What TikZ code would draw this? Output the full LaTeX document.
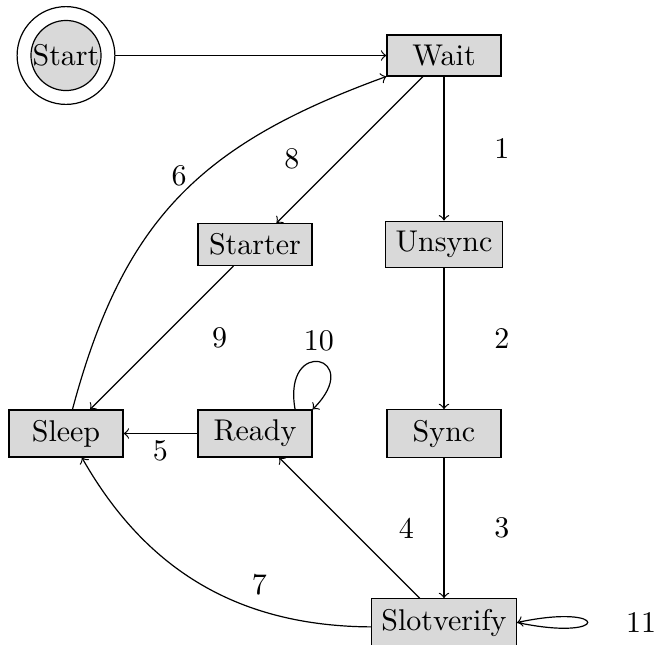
\documentclass[tikz,border=0pt]{standalone}
\usetikzlibrary{positioning}
\tikzstyle{box}  = [rectangle, draw, fill=gray!30, minimum width=38pt]
\tikzstyle{init} = [circle, draw, fill=gray!30, inner sep=0pt]
\tikzstyle{ring} = [circle, draw, minimum size=32.6pt]
\tikzstyle{num}  = [midway]

\begin{document}
\begin{tikzpicture}[->, node distance=63pt]
\useasboundingbox (-22pt,18.5pt) rectangle (196pt,-196.5pt);
\node[init] (start) at (0,0) {Start};
\node[ring] (ring) at (start) {};
\node[box, right of=start, node distance=126pt] (wait) {Wait};
\node[box, below of=wait] (unsync) {Unsync};
\node[box, below of=unsync] (sync) {Sync};
\node[box, below of=sync] (slot) {Slotverify};
\node[box, left of=unsync] (starter) {Starter};
\node[box, left of=sync] (ready) {Ready};
\node[box, left of=ready] (sleep) {Sleep};

\draw (ring) -- (wait);
\draw (wait) -- node[num, xshift=19.3pt] {1} (unsync);
\draw (unsync) -- node[num, xshift=19.3pt] {2} (sync);
\draw (sync) -- node[num, xshift=19.3pt] {3} (slot);
\draw (slot) -- node[num, xshift=19pt] {4} (ready);
\draw (ready) -- node[num, yshift=-5.7pt] {5} (sleep);
\draw (sleep.75) to[out=75, in=200, looseness=1.1] node[num, above] {6} (wait.200);
\draw (slot) to[bend left=30] node[num, xshift=19.3pt] {7} (sleep);
\draw (wait) -- node[num, xshift=-19.3pt, yshift=-3pt] {8} (starter);
\draw (starter) -- node[num, xshift=19.3pt] {9} (sleep);
\draw (ready.31) to[out=100, in=45, looseness=11] node[num, above] {10} (ready.north east);
\draw (slot.east) .. controls +(-12:32pt) and +(12:32pt) .. node[pos=0.5, right, xshift=9.3pt] {11} (slot.east);
\end{tikzpicture}
\end{document}
